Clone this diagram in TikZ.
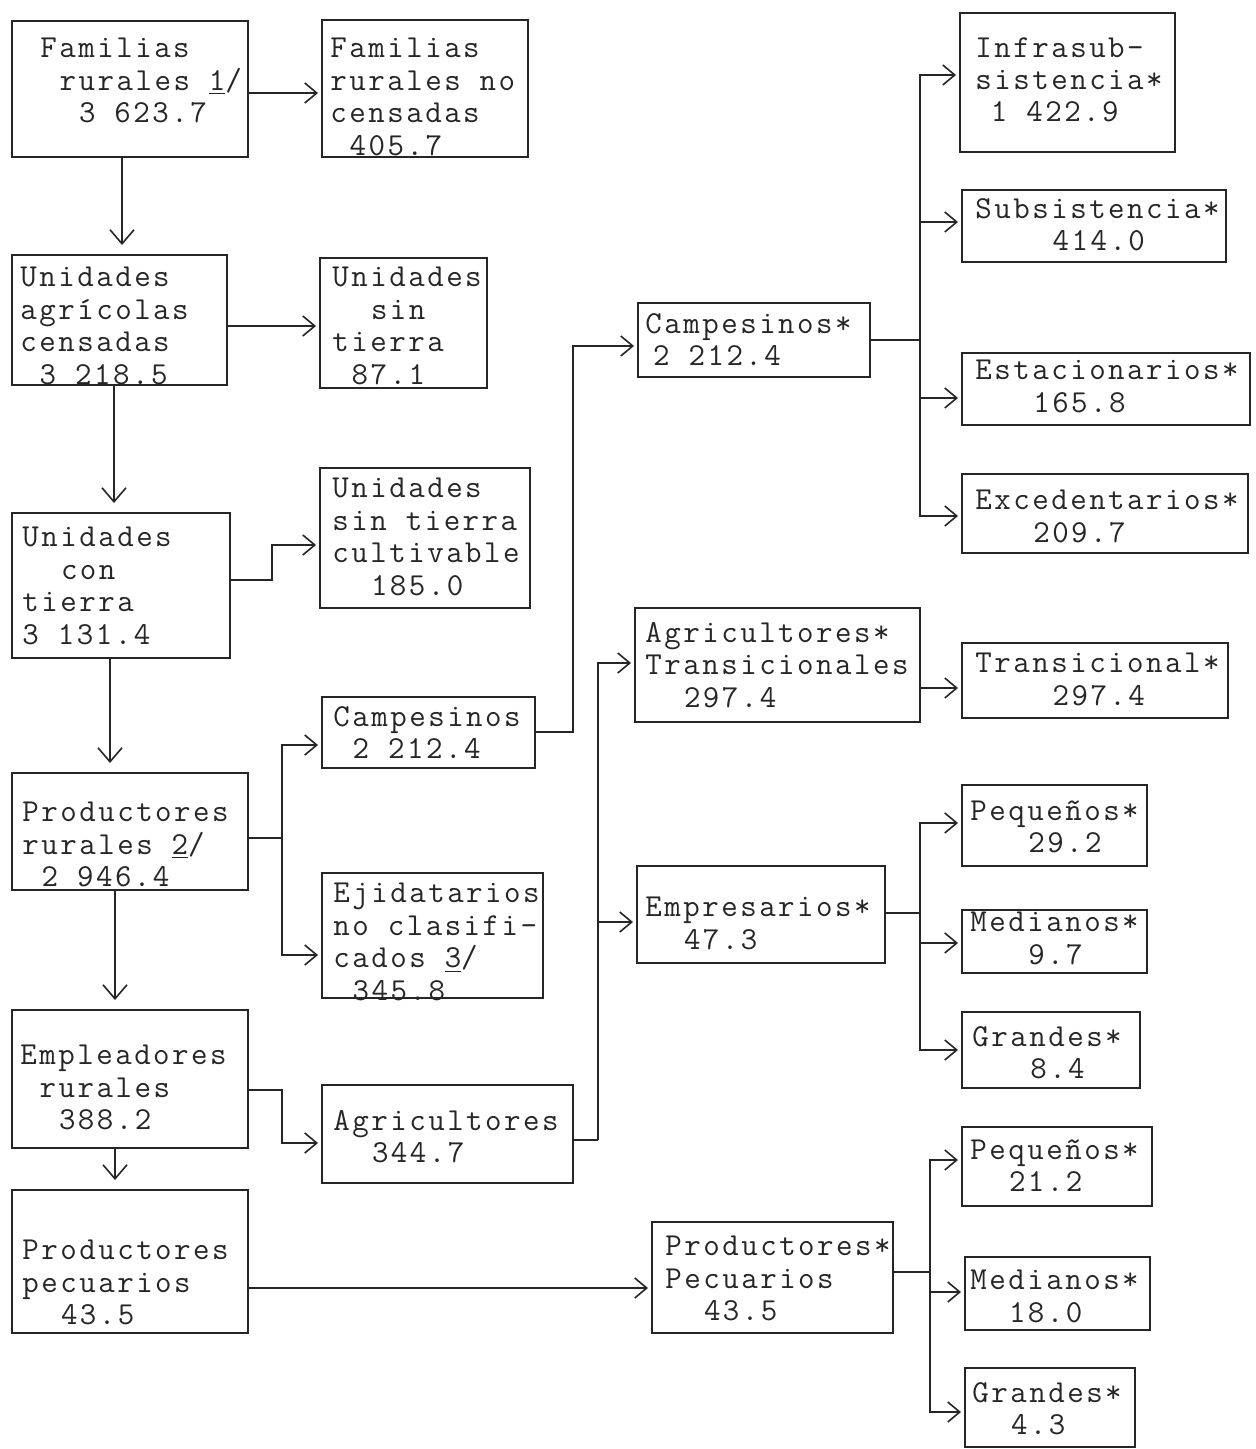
\documentclass[tikz,border=0pt]{standalone}
\usepackage{fontspec}
\usetikzlibrary{arrows.meta}
% typewriter face, letter-spaced to a fixed 9.65pt pitch
\newfontfamily\tw[LetterSpace=7.8]{Latin Modern Mono}
\newlength\cw \setlength\cw{9.65pt}
\newcommand\ind[1]{\hspace*{#1\cw}}
% \bx{name}{left}{top}{right}{bottom}{text x}{first line centre y}{lines}
\newcommand\bx[8]{%
  \node[boxst, minimum width={(#4-#2)*0.5pt}, minimum height={(#5-#3)*0.5pt}]
    (#1) at ({(#2+#4)/2},{(#3+#5)/2}) {};
  \node[txt] (#1-t) at (#6,#7-10) {#8};
}
\tikzset{
  ink/.style={black!85},
  boxst/.style={draw, ink, line width=0.8pt, inner sep=0pt, outer sep=0pt},
  txt/.style={ink, anchor=north west, inner sep=0pt, align=left,
    font={\tw\fontsize{16pt}{16.2pt}\selectfont}},
  conn/.style={ink, line width=0.8pt},
  arr/.style={conn, -{Straight Barb[length=6pt,width=10pt,line width=0.8pt]}, shorten >=2pt},
  varr/.style={conn, -{Straight Barb[length=7pt,width=12pt,line width=0.8pt]}, shorten >=5pt}
}
\begin{document}
\begin{tikzpicture}[x=0.5pt,y=-0.5pt]
\useasboundingbox[fill=white] (0,0) rectangle (1255,1449);

% left column
\bx{B1}{12}{21}{248}{157}{40}{48}{Familias\\\ind{1}rurales \underline{1}/\\\ind{2}3 623.7}
\bx{B2}{12}{255}{227}{385}{20}{277}{Unidades\\agrícolas\\censadas\\\ind{1}3 218.5}
\bx{B3}{12}{513}{230}{658}{22}{537}{Unidades\\\ind{2}con\\tierra\\3 131.4}
\bx{B4}{12}{773}{248}{890}{22}{812}{Productores\\rurales \underline{2}/\\\ind{1}2 946.4}
\bx{B5}{12}{1010}{248}{1148}{20}{1055}{Empleadores\\\ind{1}rurales\\\ind{2}388.2}
\bx{B6}{12}{1190}{248}{1333}{22}{1250}{Productores\\pecuarios\\\ind{2}43.5}

% second column
\bx{C1}{322}{20}{528}{157}{330}{48}{Familias\\rurales no\\censadas\\\ind{1}405.7}
\bx{C2}{320}{258}{487}{388}{332}{277}{Unidades\\\ind{2}sin\\tierra\\\ind{1}87.1}
\bx{C3}{320}{468}{530}{608}{332}{488}{Unidades\\sin tierra\\cultivable\\\ind{2}185.0}
\bx{C4}{322}{697}{535}{768}{333}{716}{Campesinos\\\ind{1}2 212.4}
\bx{C5}{322}{873}{543}{998}{333}{893}{Ejidatarios\\no clasifi-\\cados \underline{3}/\\\ind{1}345.8}
\bx{C6}{322}{1085}{573}{1183}{333}{1120}{Agricultores\\\ind{2}344.7}

% third column
\bx{D1}{638}{303}{870}{377}{645}{323}{Campesinos*\\\ind{0.4}2 212.4}
\bx{D2}{635}{608}{920}{722}{645}{632}{Agricultores*\\Transicionales\\\ind{2}297.4}
\bx{D3}{637}{866}{885}{963}{645}{907}{Empresarios*\\\ind{2}47.3}
\bx{D4}{652}{1222}{893}{1333}{665}{1246}{Productores*\\Pecuarios\\\ind{2}43.5}

% right column
\bx{E1}{960}{13}{1175}{152}{975}{47}{Infrasub-\\sistencia*\\\ind{0.8}1 422.9}
\bx{E2}{962}{190}{1226}{262}{975}{208}{Subsistencia*\\\ind{4}414.0}
\bx{E3}{962}{353}{1250}{425}{975}{370}{Estacionarios*\\\ind{3}165.8}
\bx{E4}{962}{474}{1248}{553}{975}{500}{Excedentarios*\\\ind{3}209.7}
\bx{E5}{962}{643}{1228}{718}{975}{663}{Transicional*\\\ind{4}297.4}
\bx{E6}{962}{785}{1147}{866}{970}{810}{Pequeños*\\\ind{3}29.2}
\bx{E7}{962}{910}{1147}{973}{970}{922}{Medianos*\\\ind{3}9.7}
\bx{E8}{962}{1012}{1140}{1088}{972}{1036}{Grandes*\\\ind{3}8.4}
\bx{E9}{962}{1127}{1152}{1206}{970}{1149}{Pequeños*\\\ind{2}21.2}
\bx{E10}{965}{1257}{1150}{1330}{970}{1280}{Medianos*\\\ind{2}18.0}
\bx{E11}{965}{1368}{1135}{1447}{972}{1392}{Grandes*\\\ind{2}4.3}

% downward chain on the left
\draw[varr] (B1.south -| 122,0) -- (B2.north -| 122,0);
\draw[varr] (B2.south -| 114,0) -- (B3.north -| 114,0);
\draw[varr] (B3.south -| 110,0) -- (B4.north -| 110,0);
\draw[varr] (B4.south -| 115,0) -- (B5.north -| 115,0);
\draw[varr] (B5.south -| 115,0) -- (B6.north -| 115,0);

% left column to second column
\draw[arr] (B1.east |- 0,93) -- (C1.west |- 0,93);
\draw[arr] (B2.east |- 0,326) -- (C2.west |- 0,326);
\draw[arr] (B3.east |- 0,580) -- (272,580) |- (C3.west |- 0,545);
\coordinate (j4) at (282,838);
\draw[conn] (B4.east |- j4) -- (j4);
\draw[arr] (j4) |- (C4.west |- 0,745);
\draw[arr] (j4) |- (C5.west |- 0,955);
\draw[arr] (B5.east |- 0,1090) -- (282,1090) |- (C6.west |- 0,1143);
\draw[arr] (B6.east |- 0,1288) -- (D4.west |- 0,1288);

% second column to third column
\draw[arr] (C4.east |- 0,732) -- (573,732) |- (D1.west |- 0,346);
\coordinate (j6) at (598,1140);
\draw[conn] (C6.east |- j6) -- (j6);
\draw[arr] (j6) |- (D2.west |- 0,663);
\draw[arr] (j6) |- (D3.west |- 0,922);

% third column to right column
\coordinate (k1) at (920,340);
\draw[conn] (D1.east |- k1) -- (k1);
\draw[arr] (k1) |- (E1.west |- 0,75);
\draw[arr] (k1) |- (E2.west |- 0,222);
\draw[arr] (k1) |- (E3.west |- 0,398);
\draw[arr] (k1) |- (E4.west |- 0,516);
\draw[arr] (D2.east |- 0,688) -- (E5.west |- 0,688);
\coordinate (k3) at (920,913);
\draw[conn] (D3.east |- k3) -- (k3);
\draw[arr] (k3) |- (E6.west |- 0,823);
\draw[arr] (k3) |- (E7.west |- 0,943);
\draw[arr] (k3) |- (E8.west |- 0,1050);
\coordinate (k4) at (930,1272);
\draw[conn] (D4.east |- k4) -- (k4);
\draw[arr] (k4) |- (E9.west |- 0,1160);
\draw[arr] (k4) |- (E10.west |- 0,1292);
\draw[arr] (k4) |- (E11.west |- 0,1412);
\end{tikzpicture}
\end{document}
